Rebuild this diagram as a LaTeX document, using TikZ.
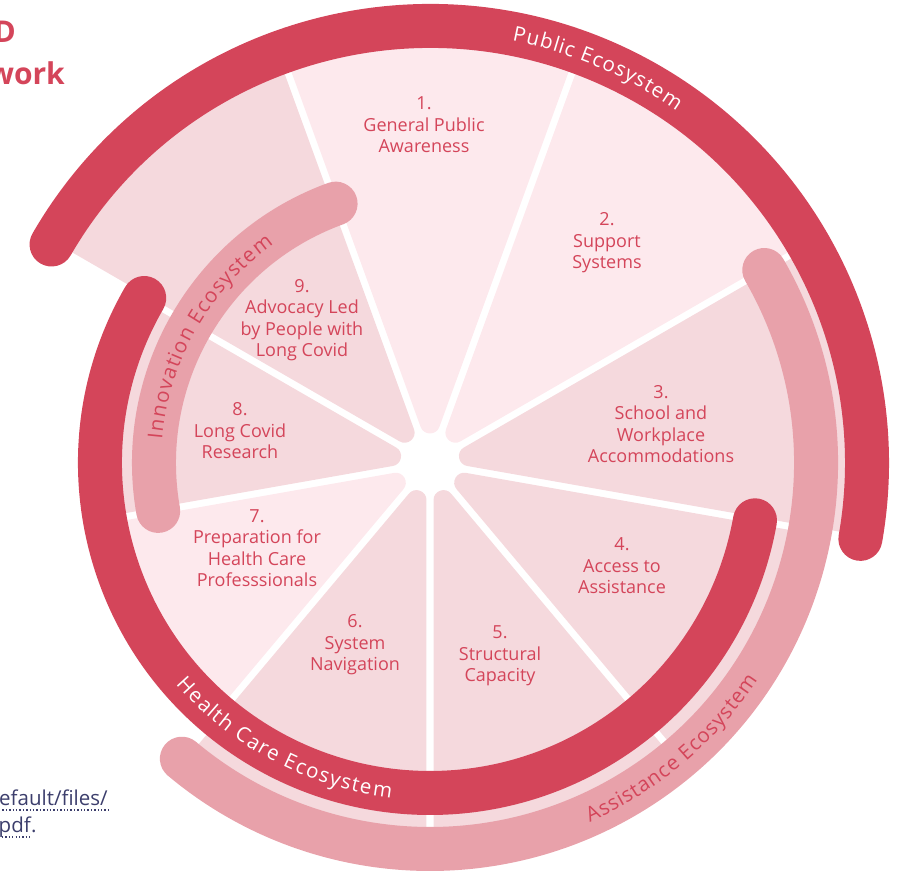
\documentclass[tikz,border=0pt]{standalone}
\usepackage{fontspec}
\setmainfont{Open Sans}
\usetikzlibrary{calc,decorations.text}

\definecolor{ringred}{RGB}{212,69,90}
\definecolor{ringpink}{RGB}{232,161,170}
\definecolor{slicelight}{RGB}{253,233,237}
\definecolor{slicedark}{RGB}{245,217,221}
\definecolor{linknavy}{RGB}{60,62,108}

\tikzset{
  ring/.style={line width=44pt, line cap=round},
  slicelabel/.style={align=center, text=ringred, inner sep=0pt, font=\fontsize{18}{21.5}\selectfont},
  urltext/.style={inner sep=0pt, text=linknavy, font=\fontsize{20.5}{20.5}\selectfont},
  urlline/.style={linknavy, line width=1.3pt, dash pattern=on 1.3pt off 2.1pt},
}

\begin{document}
\begin{tikzpicture}[x=1pt, y=1pt]
\useasboundingbox (0,0) rectangle (897,875);
\clip (0,0) rectangle (897,875);
\coordinate (hub) at (430,412);

% the nine slices, rounded towards the hub
\foreach \i/\col/\rad in {1/slicelight/437, 2/slicelight/437, 3/slicedark/437,
    4/slicedark/386, 5/slicedark/386, 6/slicedark/386,
    7/slicelight/330, 8/slicedark/330, 9/slicedark/437}{
  \pgfmathsetmacro{\ang}{90-40*(\i-1)}
  \pgfmathsetmacro{\angl}{\ang-20}
  \pgfmathsetmacro{\angr}{\ang+20}
  \pgfmathsetmacro{\arcrad}{\rad-48}
  \filldraw[\col, line width=20pt, line join=round] ($(hub)+(\ang:39.5)$) -- ++(\angl:\arcrad)
     arc[start angle=\angl, end angle=\angr, radius=\arcrad] -- cycle;
}

% ecosystem rings
\draw[ring, ringred] ($(hub)+(150:437)$) arc[start angle=150, end angle=-10, radius=437];
\draw[ring, ringpink] ($(hub)+(30:386)$) arc[start angle=30, end angle=-130, radius=386];
\draw[ring, ringred] ($(hub)+(150:330)$) arc[start angle=150, end angle=350, radius=330];
\draw[ring, ringpink] ($(hub)+(110:276)$) arc[start angle=110, end angle=190, radius=276];

% ring names, spread over their arcs
\path[decorate, decoration={text effects along path, text={Public Ecosystem},
    text effects/.cd, text along path, fit text to path,
    characters={text=white, font=\fontsize{20.5}{20.5}\selectfont}}]
  ($(hub)+(79:430)$) arc[start angle=79, end angle=55, radius=430];
\path[decorate, decoration={text effects along path, text={Assistance Ecosystem},
    text effects/.cd, text along path, fit text to path,
    characters={text=ringred, font=\fontsize{20.5}{20.5}\selectfont}}]
  ($(hub)+(-66:393)$) arc[start angle=-66, end angle=-33.5, radius=393];
\path[decorate, decoration={text effects along path, text={Health Care Ecosystem},
    text effects/.cd, text along path, fit text to path,
    characters={text=white, font=\fontsize{20.5}{20.5}\selectfont}}]
  ($(hub)+(221:337)$) arc[start angle=221, end angle=263.4, radius=337];
\path[decorate, decoration={text effects along path, text={Innovation Ecosystem},
    text effects/.cd, text along path, fit text to path,
    characters={text=ringred, font=\fontsize{20.5}{20.5}\selectfont}}]
  ($(hub)+(175:269)$) arc[start angle=175, end angle=125.5, radius=269];

% slice labels
\node[slicelabel] (lab1) at (424,750) {1.\\General Public\\Awareness};
\node[slicelabel] (lab2) at (607,632) {2.\\Support\\Systems};
\node[slicelabel] (lab3) at (661,451) {3.\\School and\\Workplace\\Accommodations};
\node[slicelabel] (lab4) at (622,309) {4.\\Access to\\Assistance};
\node[slicelabel] (lab5) at (500,219) {5.\\Structural\\Capacity};
\node[slicelabel] (lab6) at (355,230) {6.\\System\\Navigation};
\node[slicelabel] (lab7) at (257,327) {7.\\Preparation for\\Health Care\\Professsionals};
\node[slicelabel] (lab8) at (240,444) {8.\\Long Covid\\Research};
\node[slicelabel] (lab9) at (302,555) {9.\\Advocacy Led\\by People with\\Long Covid};

% cut-off title and link
\node[anchor=base east, inner sep=0pt, text=ringred, font=\bfseries\fontsize{30}{30}\selectfont] (titleA) at (16,832) {D};
\node[anchor=base east, inner sep=0pt, text=ringred, font=\bfseries\fontsize{30}{30}\selectfont] (titleB) at (65,790) {work};
\node[urltext, anchor=base west] (urlA) at (-1,69) {efault/files/};
\node[urltext, anchor=base east] (urlB) at (31,42) {pdf};
\node[urltext, anchor=base west] (urlC) at (urlB.base east) {.};
\draw[urlline] ([yshift=-4pt]urlA.base west) -- ([yshift=-4pt]urlA.base east);
\draw[urlline] ([yshift=-4pt]urlB.base west) -- ([yshift=-4pt]urlB.base east);
\end{tikzpicture}
\end{document}
